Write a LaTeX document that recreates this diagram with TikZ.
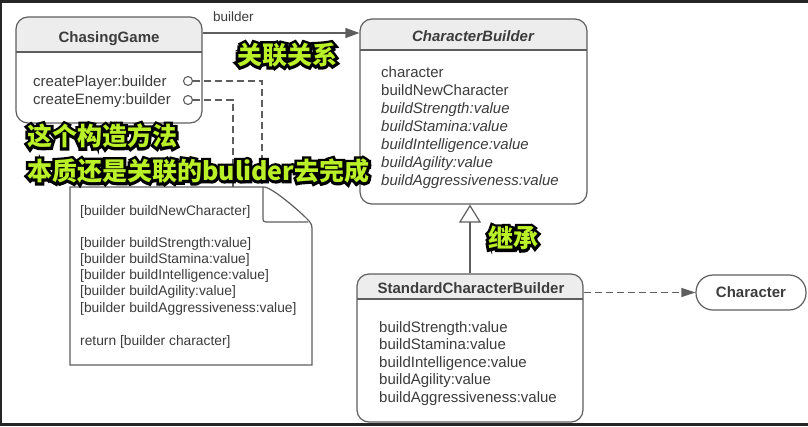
\documentclass[tikz,border=0pt]{standalone}
\usepackage{fontspec}
\usepackage{xcolor}
\setmainfont{Liberation Sans}
\newfontfamily\cjkfill{Noto Sans CJK SC}
\newfontfamily\cjkline{Noto Sans CJK SC}[BoldFeatures={FakeBold=22}]
\usetikzlibrary{arrows.meta}

\definecolor{linegray}{HTML}{5E5E5E}
\definecolor{headgray}{HTML}{EDEDED}
\definecolor{inkgray}{HTML}{3C3C3C}
\definecolor{notegreen}{RGB}{186,240,40}
\definecolor{frame}{HTML}{262626}

\newcommand\glowtext[1]{\rlap{\cjkline\bfseries\color{black}#1}{\cjkfill\bfseries\color{notegreen}#1}}

\begin{document}
\begin{tikzpicture}[x=1pt,y=-1pt,
	classbox/.style={draw=linegray, line width=1.2pt, rounded corners=12pt, inner sep=0pt,
		path picture={\fill[headgray, sharp corners] (path picture bounding box.north west) rectangle ([yshift=-#1]path picture bounding box.north east);
			\draw[linegray, line width=1.2pt, sharp corners] ([yshift=-#1]path picture bounding box.north west) -- ([yshift=-#1]path picture bounding box.north east);}},
	title/.style={font=\fontsize{15}{18}\selectfont\bfseries, text=inkgray, inner sep=0pt, anchor=base},
	member/.style={font=\fontsize{15}{18}\selectfont, text=inkgray, inner sep=0pt, anchor=base west},
	notetext/.style={font=\fontsize{13.8}{16}\selectfont, text=inkgray, inner sep=0pt, anchor=base west},
	port/.style={circle, draw=linegray, line width=1.1pt, fill=white, inner sep=0pt, minimum size=9pt},
	dep/.style={draw=linegray, line width=1.2pt, dash pattern=on 7pt off 4pt},
	assoc/.style={draw=linegray, line width=1.2pt, -{Triangle[length=14pt,width=10pt]}},
	inherit/.style={draw=linegray, line width=1.2pt, -{Triangle[open,length=18pt,width=22pt]}},
	remark/.style={font=\fontsize{25}{27}\selectfont, inner sep=0pt}]
	\useasboundingbox (0,0) rectangle (808,426);
	\fill[frame] (0,0) rectangle (808,426);
	\fill[white] (2,3) rectangle (808,423);
	
	% classes
	\node[classbox=35pt, minimum width=186pt, minimum height=106pt] (game) at (109,70) {};
	\node[title] (gametitle) at (109,42) {ChasingGame};
	\node[member] (gm1) at (33,86) {createPlayer:builder};
	\node[member] (gm2) at (33,104) {createEnemy:builder};
	\node[port] (port1) at (188,81) {};
	\node[port] (port2) at (188,100) {};
	
	\node[classbox=31pt, minimum width=227pt, minimum height=185pt] (builder) at (473.5,111.5) {};
	\node[title] (buildertitle) at (473,41) {\itshape CharacterBuilder};
	\foreach \m [count=\i] in {character, buildNewCharacter, \textit{buildStrength:value}, \textit{buildStamina:value}, \textit{buildIntelligence:value}, \textit{buildAgility:value}, \textit{buildAggressiveness:value}}
		\node[member] (cbm\i) at (381,59+18*\i) {\m};
	
	\node[classbox=25pt, minimum width=226pt, minimum height=148pt] (standard) at (470,348) {};
	\node[title] (standardtitle) at (471,293) {StandardCharacterBuilder};
	\foreach \m [count=\i] in {buildStrength:value, buildStamina:value, buildIntelligence:value, buildAgility:value, buildAggressiveness:value}
		\node[member] (scm\i) at (379,314.4+17.6*\i) {\m};
	
	\node[draw=linegray, line width=1.2pt, rounded corners=17pt, minimum width=110pt, minimum height=35pt, font=\fontsize{15}{18}\selectfont\bfseries, text=inkgray] (character) at (751,292.5) {Character};
	
	% note
	\draw[linegray, line width=1.2pt] (70,187) -- (264,187) .. controls (272,187) and (303,214) .. (309,221) .. controls (312,225) .. (312,232) -- (312,365) -- (70,365) -- cycle;
	\draw[linegray, line width=1.2pt] (263,187) -- (263,216) .. controls (263,222) .. (269,222) -- (308,222);
	\foreach \y/\t [count=\i] in {215/{[builder buildNewCharacter]}, 247/{[builder buildStrength:value]}, 263/{[builder buildStamina:value]}, 279/{[builder buildIntelligence:value]}, 295/{[builder buildAgility:value]}, 312/{[builder buildAggressiveness:value]}, 345/{return [builder character]}}
		\node[notetext] (nl\i) at (80,\y) {\t};
	\coordinate (noteA) at (262,187);
	\coordinate (noteB) at (233,187);
	
	% connectors
	\coordinate (assocy) at (0,33);
	\draw[assoc] (assocy -| game.east) -- (assocy -| builder.west)
		node[pos=0.196, above=11pt, inner sep=0pt, font=\fontsize{13.5}{16}\selectfont, text=inkgray] (rolename) {builder};
	\draw[dep] (port1.east) -| (noteA);
	\draw[dep] (port2.east) -| (noteB);
	\draw[inherit] (standard.north) -- (standard.north |- builder.south);
	\draw[dep, -{Triangle[length=14pt,width=9pt]}] (character.west -| standard.east) -- (character.west);
	
	% remarks
	\node[remark] (rel) at (287,55) {\glowtext{关联关系}};
	\node[remark, anchor=west] (how1) at (27,136) {\glowtext{这个构造方法}};
	\node[remark, anchor=west] (how2) at (27,171) {\glowtext{本质还是关联的bulider去完成}};
	\node[remark] (inh) at (513,238) {\glowtext{继承}};
\end{tikzpicture}
\end{document}
